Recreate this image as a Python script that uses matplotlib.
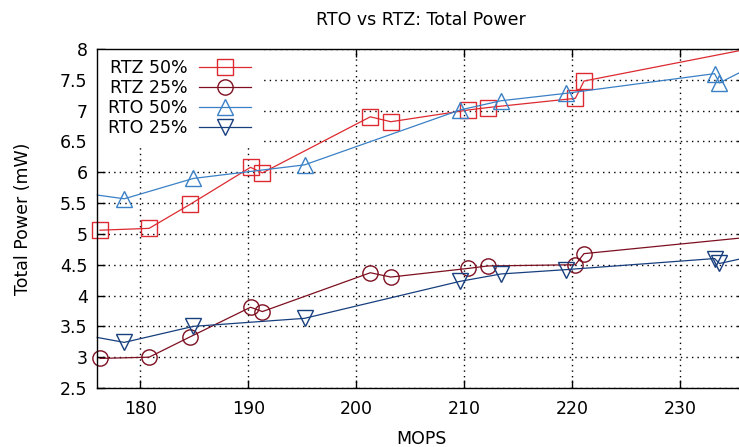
import numpy as np
import matplotlib
matplotlib.use('Agg')
import matplotlib.pyplot as plt

plt.rcParams.update({
    'font.family': 'DejaVu Sans',
    'font.size': 12.5,
    'axes.linewidth': 1.0,
})

# MOPS / total power (mW); first and last entries of the RTO series and the
# last entry of the RTZ series sit on the x-range limits
rtz_mops = [176.25, 180.8, 184.6, 190.2, 191.3, 201.3, 203.2, 210.35, 212.2, 220.3, 221.1, 236.0]
rtz_50 = [5.06, 5.09, 5.48, 6.08, 5.99, 6.90, 6.82, 7.01, 7.05, 7.20, 7.48, 7.99]
rtz_25 = [2.98, 3.00, 3.33, 3.81, 3.74, 4.37, 4.30, 4.44, 4.48, 4.50, 4.68, 4.94]

rto_mops = [176.0, 178.5, 184.9, 195.2, 209.6, 213.4, 219.4, 233.2, 233.65, 236.0]
rto_50 = [5.63, 5.57, 5.90, 6.12, 7.01, 7.16, 7.28, 7.60, 7.45, 7.66]
rto_25 = [3.32, 3.24, 3.50, 3.63, 4.23, 4.35, 4.42, 4.60, 4.52, 4.61]

series = [
    ('RTZ 50%', rtz_mops, rtz_50, 's', '#dc2a30', slice(0, -1)),
    ('RTZ 25%', rtz_mops, rtz_25, 'o', '#7d0f20', slice(0, -1)),
    ('RTO 50%', rto_mops, rto_50, '^', '#3a80c6', slice(1, -1)),
    ('RTO 25%', rto_mops, rto_25, 'v', '#173f7e', slice(1, -1)),
]

W, H = 739, 447
fig = plt.figure(figsize=(W / 100, H / 100), dpi=100)
# plot box runs a little past the right edge of the canvas
left, right, top, bottom = 97.3, 744.8, 49.0, 388.0
ax = fig.add_axes([left / W, 1 - bottom / H, (right - left) / W, (bottom - top) / H])

for label, xs, ys, mk, col, every in series:
    ax.plot(xs, ys, '-', color=col, linewidth=0.9, marker=mk, markersize=11,
            markerfacecolor='none', markeredgecolor=col, markeredgewidth=1.0,
            markevery=every, clip_on=False, label=label)

ax.set_xlim(176, 236)
ax.set_ylim(2.5, 8)
ax.set_xticks([180, 190, 200, 210, 220, 230])
ax.set_yticks(np.arange(2.5, 8.01, 0.5))
ax.set_yticklabels(['2.5', '3', '3.5', '4', '4.5', '5', '5.5', '6', '6.5', '7', '7.5', '8'])
ax.tick_params(direction='in', top=True, right=True, length=6, width=1.0)
ax.tick_params(axis='x', pad=9)
ax.tick_params(axis='y', pad=7)
ax.grid(True, color='black', linestyle=(0, (1, 3)), linewidth=1.0)

ax.set_title('RTO vs RTZ: Total Power', fontsize=12.5, pad=17)
ax.set_xlabel('MOPS', labelpad=8)
ax.set_ylabel('Total Power (mW)', labelpad=20)

leg = ax.legend(loc='upper left', frameon=True, fancybox=False, markerfirst=False,
                facecolor='white', edgecolor='none', framealpha=1.0,
                handlelength=3.05, labelspacing=0.11, borderaxespad=0.0,
                borderpad=0.6, handletextpad=0.65, fontsize=12.5)
# keep the border lines on top of the key's white box
leg.set_zorder(2.4)

fig.savefig('out.png', dpi=100)
